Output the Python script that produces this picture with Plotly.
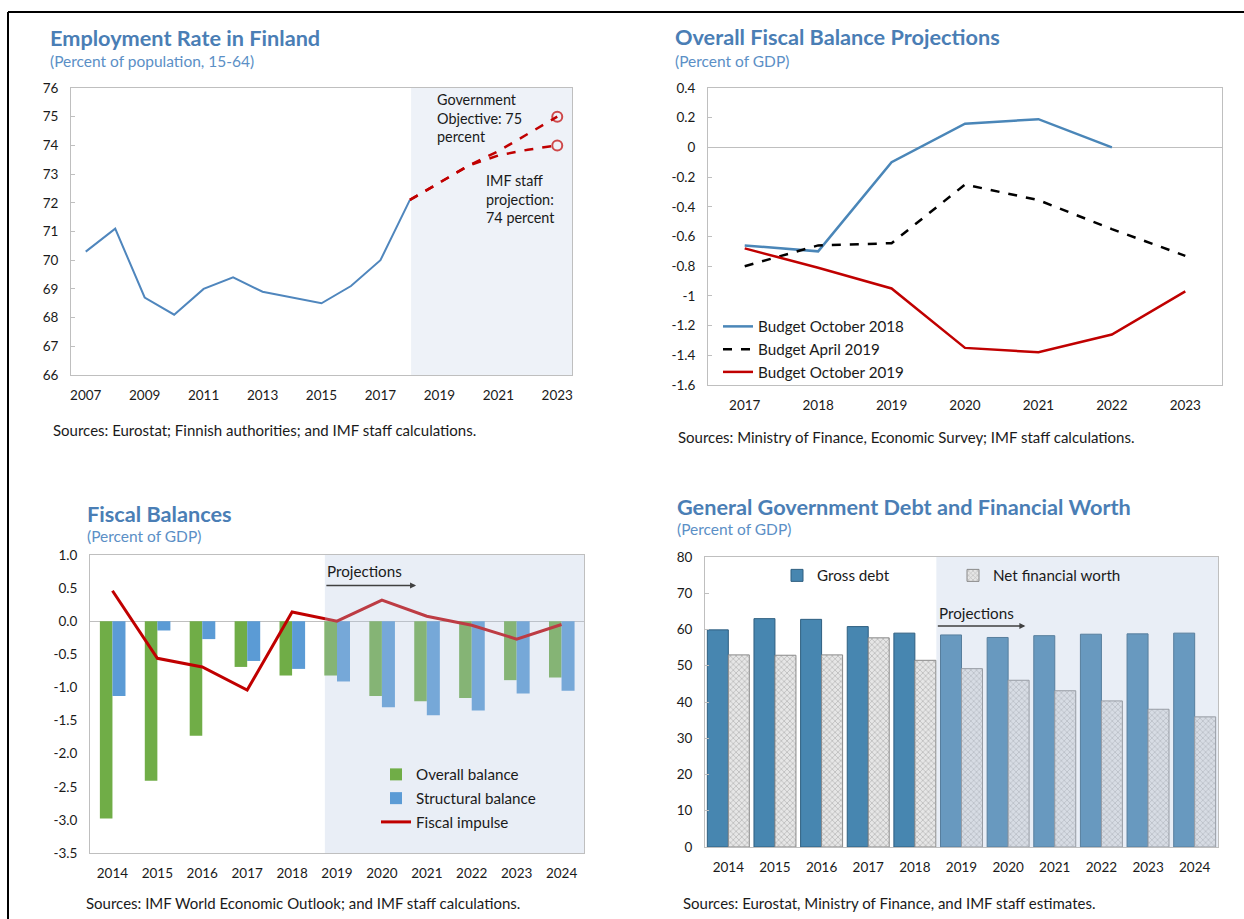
import plotly.graph_objects as go

W, H = 1244, 919
FONT = "Lato"
TITLE_C = "#4a7eb5"
SUB_C = "#5b8fc6"

# ---------------- data ----------------
emp_years = [2007, 2008, 2009, 2010, 2011, 2012, 2013, 2014, 2015, 2016, 2017, 2018]
emp_rate = [70.3, 71.1, 68.7, 68.1, 69.0, 69.4, 68.9, 68.7, 68.5, 69.1, 70.0, 72.1]
proj_years = [2018, 2019, 2020, 2021, 2022, 2023]
gov_objective = [72.1, 72.7, 73.3, 73.8, 74.4, 75.0]
imf_projection = [72.1, 72.7, 73.3, 73.65, 73.85, 74.0]
emp_xticks = [2007, 2009, 2011, 2013, 2015, 2017, 2019, 2021, 2023]

fb_years = [2017, 2018, 2019, 2020, 2021, 2022, 2023]
budget_oct2018 = [-0.66, -0.70, -0.10, 0.16, 0.19, 0.0, None]
budget_apr2019 = [-0.80, -0.66, -0.645, -0.25, -0.355, -0.55, -0.73]
budget_oct2019 = [-0.68, -0.81, -0.95, -1.35, -1.38, -1.26, -0.97]
fb_yticks = [0.4, 0.2, 0, -0.2, -0.4, -0.6, -0.8, -1, -1.2, -1.4, -1.6]
fb_yticktext = ["0.4", "0.2", "0", "-0.2", "-0.4", "-0.6", "-0.8", "-1", "-1.2", "-1.4", "-1.6"]

bal_years = [2014, 2015, 2016, 2017, 2018, 2019, 2020, 2021, 2022, 2023, 2024]
overall_balance = [-2.98, -2.41, -1.73, -0.69, -0.82, -0.82, -1.13, -1.21, -1.16, -0.89, -0.85]
structural_balance = [-1.13, -0.14, -0.27, -0.60, -0.72, -0.91, -1.30, -1.42, -1.35, -1.09, -1.05]
fiscal_impulse = [0.46, -0.56, -0.69, -1.04, 0.14, 0.0, 0.32, 0.075, -0.06, -0.27, -0.05]
bal_yticks = [1.0, 0.5, 0.0, -0.5, -1.0, -1.5, -2.0, -2.5, -3.0, -3.5]
bal_yticktext = ["1.0", "0.5", "0.0", "-0.5", "-1.0", "-1.5", "-2.0", "-2.5", "-3.0", "-3.5"]

debt_years = [2014, 2015, 2016, 2017, 2018, 2019, 2020, 2021, 2022, 2023, 2024]
gross_debt = [59.9, 63.0, 62.8, 60.8, 59.0, 58.5, 57.8, 58.3, 58.7, 58.8, 59.0]
net_fin_worth = [53.0, 52.9, 53.0, 57.7, 51.5, 49.2, 46.0, 43.1, 40.3, 38.0, 35.9]


def px(x):
    return x / W


def py(y):
    return 1 - y / H


fig = go.Figure()

# ---------- Top-left: employment ----------
fig.add_trace(go.Scatter(x=emp_years, y=emp_rate, mode="lines",
                         line=dict(color="#4f86bd", width=2),
                         xaxis="x", yaxis="y", showlegend=False))
fig.add_trace(go.Scatter(x=proj_years, y=gov_objective, mode="lines+markers",
                         line=dict(color="#c00000", width=2.5, dash="dash"),
                         marker=dict(symbol="circle-open", size=[0, 0, 0, 0, 0, 10],
                                     line=dict(width=2, color="#c00000")),
                         xaxis="x", yaxis="y", showlegend=False))
fig.add_trace(go.Scatter(x=proj_years, y=imf_projection, mode="lines+markers",
                         line=dict(color="#c00000", width=2.5, dash="dash"),
                         marker=dict(symbol="circle-open", size=[0, 0, 0, 0, 0, 10],
                                     line=dict(width=2, color="#c00000")),
                         xaxis="x", yaxis="y", showlegend=False))

# ---------- Top-right: fiscal balance projections ----------
fig.add_trace(go.Scatter(x=fb_years, y=budget_oct2018, mode="lines", name="Budget October 2018",
                         line=dict(color="#4a86b8", width=2.5),
                         xaxis="x2", yaxis="y2", legend="legend"))
fig.add_trace(go.Scatter(x=fb_years, y=budget_apr2019, mode="lines", name="Budget April 2019",
                         line=dict(color="#000000", width=2.5, dash="dash"),
                         xaxis="x2", yaxis="y2", legend="legend"))
fig.add_trace(go.Scatter(x=fb_years, y=budget_oct2019, mode="lines", name="Budget October 2019",
                         line=dict(color="#c00000", width=2.5),
                         xaxis="x2", yaxis="y2", legend="legend"))

# ---------- Bottom-left: fiscal balances ----------
fig.add_trace(go.Bar(x=bal_years, y=overall_balance, name="Overall balance",
                     marker=dict(color="#70ad47", line=dict(width=0)),
                     width=0.28, offset=-0.28, legendgroup="a",
                     xaxis="x3", yaxis="y3", legend="legend2"))
fig.add_trace(go.Bar(x=bal_years, y=structural_balance, name="Structural balance",
                     marker=dict(color="#5b9bd5", line=dict(width=0)),
                     width=0.29, offset=0, legendgroup="b",
                     xaxis="x3", yaxis="y3", legend="legend2"))
fig.add_trace(go.Scatter(x=bal_years, y=fiscal_impulse, mode="lines", name="Fiscal impulse",
                         line=dict(color="#c00000", width=3), legendgroup="c",
                         xaxis="x3", yaxis="y3", legend="legend2"))

# ---------- Bottom-right: debt and financial worth ----------
fig.add_trace(go.Bar(x=debt_years, y=gross_debt, name="Gross debt",
                     marker=dict(color="#4786b0", line=dict(width=1, color="#2f5f80")),
                     width=0.45, offset=-0.45,
                     xaxis="x4", yaxis="y4", legend="legend3"))
fig.add_trace(go.Bar(x=debt_years, y=net_fin_worth, name="Net financial worth",
                     marker=dict(color="#e4e4e4", line=dict(width=1, color="#8a8a8a"),
                                 pattern=dict(shape="x", size=4, solidity=0.35,
                                              fgcolor="#8c8c8c", bgcolor="#e6e6e6")),
                     width=0.45, offset=0,
                     xaxis="x4", yaxis="y4", legend="legend3"))

GRID = "#bfbfbf"
tickfont = dict(family=FONT, size=13.5, color="#1a1a1a")


def xax(l, r, rng, **kw):
    d = dict(domain=[px(l), px(r)], range=rng, showgrid=False, zeroline=False,
             showline=True, linecolor=GRID, linewidth=1, mirror=True, automargin=False,
             ticks="", tickfont=tickfont, ticklabelstandoff=8, fixedrange=True)
    d.update(kw)
    return d


def yax(t, b, rng, **kw):
    d = dict(domain=[py(b), py(t)], range=rng, showgrid=False,
             showline=True, linecolor=GRID, linewidth=1, mirror=True, automargin=False,
             ticks="inside", ticklen=4, tickcolor=GRID, tickfont=tickfont,
             ticklabelstandoff=9, fixedrange=True)
    d.update(kw)
    return d


LEGF = dict(family=FONT, size=15.2, color="#1a1a1a")
layout = dict(
    width=W, height=H, margin=dict(l=0, r=0, t=0, b=0, pad=0, autoexpand=False), autosize=False,
    paper_bgcolor="white", plot_bgcolor="white",
    font=dict(family=FONT, size=13, color="#1a1a1a"),
    barmode="overlay",
    xaxis=xax(71, 572, [2006.5, 2023.5], anchor="y", tickvals=emp_xticks),
    yaxis=yax(88, 375, [66, 76], anchor="x", dtick=1, zeroline=False),
    xaxis2=xax(708, 1222, [2016.5, 2023.5], anchor="y2", dtick=1),
    yaxis2=yax(88, 385, [-1.6, 0.4], anchor="x2", tickvals=fb_yticks, ticktext=fb_yticktext,
               zeroline=True, zerolinecolor=GRID, zerolinewidth=1),
    xaxis3=xax(90, 584, [2013.5, 2024.5], anchor="y3", dtick=1),
    yaxis3=yax(555, 853, [-3.5, 1.0], anchor="x3", tickvals=bal_yticks, ticktext=bal_yticktext,
               ticks="", zeroline=True, zerolinecolor=GRID, zerolinewidth=1),
    xaxis4=xax(705, 1218, [2013.5, 2024.5], anchor="y4", dtick=1),
    yaxis4=yax(557, 847, [0, 80], anchor="x4", dtick=10, zeroline=False),
    legend=dict(x=px(718), y=py(310), xanchor="left", yanchor="top",
                bgcolor="rgba(0,0,0,0)", font=LEGF,
                itemwidth=30, tracegroupgap=0),
    legend2=dict(x=px(376), y=py(758), xanchor="left", yanchor="top",
                 bgcolor="rgba(0,0,0,0)", font=LEGF, traceorder="grouped",
                 tracegroupgap=1, itemwidth=30),
    legend3=dict(x=px(777), y=py(559), xanchor="left", yanchor="top",
                 orientation="h", entrywidth=131, entrywidthmode="pixels",
                 bgcolor="rgba(0,0,0,0)", font=LEGF,
                 itemwidth=30),
)
fig.update_layout(**layout)

shapes = [
    dict(type="rect", xref="x", yref="y domain", x0=2018.04, x1=2023.5, y0=0, y1=1,
         fillcolor="#eef2f8", line=dict(width=0), layer="below"),
    dict(type="rect", xref="x3", yref="y3 domain", x0=2018.73, x1=2024.5, y0=0, y1=1,
         fillcolor="rgba(182,198,225,0.3)", line=dict(width=0), layer="above"),
    dict(type="rect", xref="x4", yref="y4 domain", x0=2018.46, x1=2024.5, y0=0, y1=1,
         fillcolor="rgba(182,198,225,0.3)", line=dict(width=0), layer="above"),
    dict(type="line", xref="paper", yref="paper", x0=px(8), x1=1, y0=py(12), y1=py(12),
         line=dict(color="black", width=2)),
    dict(type="line", xref="paper", yref="paper", x0=px(8), x1=px(8), y0=py(12), y1=0,
         line=dict(color="black", width=2)),
]
fig.update_layout(shapes=shapes)


def txt(x, y, s, size=13, color="#1a1a1a", bold=False, yanchor="middle"):
    return dict(xref="paper", yref="paper", x=px(x), y=py(y), text=(f"<b>{s}</b>" if bold else s),
                showarrow=False, xanchor="left", yanchor=yanchor, align="left",
                font=dict(family=FONT, size=size, color=color))


TS, SS, SRC = 21.7, 15.5, 15
ann = [
    txt(48, 38, "Employment Rate in Finland", TS, TITLE_C, True),
    txt(48, 61, "(Percent of population, 15-64)", SS, SUB_C),
    txt(673, 37, "Overall Fiscal Balance Projections", TS, TITLE_C, True),
    txt(673, 61, "(Percent of GDP)", SS, SUB_C),
    txt(85, 514, "Fiscal Balances", TS, TITLE_C, True),
    txt(85, 536, "(Percent of GDP)", SS, SUB_C),
    txt(675, 507, "General Government Debt and Financial Worth", TS, TITLE_C, True),
    txt(675, 529, "(Percent of GDP)", SS, SUB_C),
    txt(51, 430, "Sources: Eurostat; Finnish authorities; and IMF staff calculations.", SRC),
    txt(676, 437, "Sources: Ministry of Finance, Economic Survey; IMF staff calculations.", SRC),
    txt(84, 903, "Sources: IMF World Economic Outlook; and IMF staff calculations.", SRC),
    txt(681, 903, "Sources: Eurostat, Ministry of Finance, and IMF staff estimates.", SRC),
    txt(435, 89, "Government<br>Objective: 75<br>percent", 14.4, yanchor="top"),
    txt(484, 170, "IMF staff<br>projection:<br>74 percent", 14.4, yanchor="top"),
    txt(325, 571, "Projections", 15.2),
    txt(937, 613, "Projections", 15.2),
    dict(xref="x3", yref="y3", axref="x3", ayref="y3", x=2020.76, y=0.54, ax=2018.73, ay=0.54,
         text="", showarrow=True, arrowhead=2, arrowsize=0.8, arrowwidth=1.5, arrowcolor="#404040"),
    dict(xref="x4", yref="y4", axref="x4", ayref="y4", x=2020.37, y=61, ax=2018.46, ay=61,
         text="", showarrow=True, arrowhead=2, arrowsize=0.8, arrowwidth=1.5, arrowcolor="#404040"),
]
fig.update_layout(annotations=ann)

POST = (
    "document.documentElement.style.margin='0px';"
    "document.documentElement.style.overflow='hidden';"
    "document.body.style.margin='0px';document.body.style.padding='0px';"
    "document.body.style.overflow='hidden';"
    "var gd=document.getElementById('{plot_id}');"
    "gd.style.position='absolute';gd.style.left='0px';gd.style.top='0px';"
    "window.scrollTo(0,0);"
)
fig.write_html("out.html", config={"displayModeBar": False, "responsive": False},
               post_script=POST)
